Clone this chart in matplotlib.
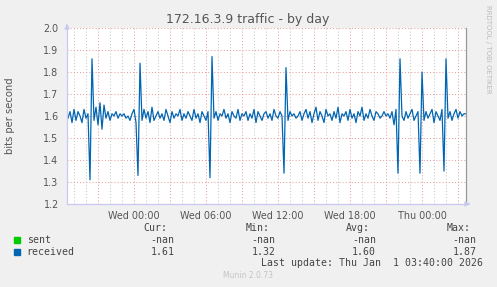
import matplotlib
matplotlib.use("Agg")
import matplotlib.pyplot as plt
import numpy as np

# data: 10 minute samples, hours relative to Wed 00:00
start_hour = -5.5
step_hours = 1 / 6
received = [
    1.59, 1.62, 1.57, 1.63, 1.58, 1.62, 1.60, 1.57, 1.63, 1.59, 1.61, 1.31, 1.86, 1.58, 1.64, 1.56, 1.66, 1.54, 1.65, 1.59,
    1.62, 1.58, 1.61, 1.60, 1.62, 1.59, 1.61, 1.60, 1.61, 1.59, 1.60, 1.58, 1.61, 1.63, 1.57, 1.33, 1.84, 1.58, 1.63, 1.59,
    1.62, 1.57, 1.64, 1.58, 1.60, 1.62, 1.59, 1.61, 1.58, 1.63, 1.60, 1.57, 1.62, 1.59, 1.61, 1.60, 1.63, 1.58, 1.61, 1.59,
    1.62, 1.60, 1.58, 1.63, 1.59, 1.61, 1.57, 1.62, 1.60, 1.58, 1.62, 1.32, 1.87, 1.59, 1.62, 1.58, 1.61, 1.60, 1.63, 1.59,
    1.61, 1.57, 1.62, 1.60, 1.59, 1.63, 1.58, 1.61, 1.60, 1.62, 1.58, 1.61, 1.59, 1.63, 1.57, 1.62, 1.60, 1.58, 1.61, 1.62,
    1.59, 1.61, 1.58, 1.63, 1.60, 1.59, 1.62, 1.60, 1.34, 1.82, 1.58, 1.62, 1.60, 1.61, 1.59, 1.60, 1.62, 1.58, 1.61, 1.63,
    1.59, 1.62, 1.57, 1.61, 1.64, 1.58, 1.62, 1.60, 1.57, 1.63, 1.60, 1.61, 1.58, 1.62, 1.59, 1.64, 1.57, 1.61, 1.60, 1.62,
    1.58, 1.63, 1.59, 1.61, 1.57, 1.62, 1.60, 1.64, 1.58, 1.61, 1.59, 1.63, 1.60, 1.58, 1.62, 1.61, 1.59, 1.60, 1.62, 1.60,
    1.61, 1.59, 1.62, 1.56, 1.63, 1.34, 1.86, 1.60, 1.58, 1.62, 1.59, 1.61, 1.63, 1.58, 1.60, 1.62, 1.34, 1.80, 1.58, 1.62,
    1.59, 1.61, 1.63, 1.57, 1.62, 1.60, 1.58, 1.63, 1.35, 1.86, 1.59, 1.62, 1.58, 1.61, 1.63, 1.59, 1.62, 1.60, 1.61, 1.61,
]
sent = [np.nan] * len(received)

series_names = ["sent", "received"]
series_colors = ["#00CC00", "#0066B3"]
stat_headers = ["Cur:", "Min:", "Avg:", "Max:"]
stats = [["-nan", "-nan", "-nan", "-nan"],
         ["1.61", "1.32", "1.60", "1.87"]]

label_hours = [0, 6, 12, 18, 24]
label_texts = ["Wed 00:00", "Wed 06:00", "Wed 12:00", "Wed 18:00", "Thu 00:00"]
y_ticks = [1.2, 1.3, 1.4, 1.5, 1.6, 1.7, 1.8, 1.9, 2.0]

W, H = 497, 287
fig = plt.figure(figsize=(W / 100, H / 100), dpi=100, facecolor="#F0F0F0")
ax = fig.add_axes([67 / W, (H - 204) / H, (466 - 67) / W, (204 - 28) / H])
ax.set_facecolor("white")

hours = start_hour + step_hours * np.arange(len(received))
ax.plot(hours, sent, color=series_colors[0], lw=0.9)
ax.plot(hours, received, color=series_colors[1], lw=0.9)

ax.set_xlim(-67 / 12, 332 / 12)
ax.set_ylim(1.2, 2.0)

major = np.arange(-3, 28, 3)
ax.set_xticks(major)
ax.set_xticklabels([label_texts[label_hours.index(h)] if h in label_hours else "" for h in major])
ax.set_xticks(np.arange(-5, 28, 1), minor=True)
ax.set_yticks(y_ticks)
ax.set_yticklabels(["%.1f" % v for v in y_ticks])

dots = (0, (1, 2))
ax.grid(which="minor", axis="x", color="#C8C8C8", ls=dots, lw=0.75)
ax.grid(which="major", axis="x", color="#E8A0A0", ls=dots, lw=0.75)
ax.grid(which="major", axis="y", color="#E8A0A0", ls=dots, lw=0.75)
ax.set_axisbelow(True)

ax.tick_params(which="both", length=0, labelsize=6.9, colors="#555555")
ax.tick_params(axis="x", pad=5)
ax.tick_params(axis="y", pad=6)

ax.spines["top"].set_visible(False)
ax.spines["right"].set_color("#999999")
ax.spines["left"].set_color("#C8C8F0")
ax.spines["bottom"].set_color("#C8C8F0")
for s in ax.spines.values():
    s.set_linewidth(0.9)

# axis arrows
ax.annotate("", xy=(473 / W, (H - 204) / H), xytext=(466 / W, (H - 204) / H),
            xycoords="figure fraction",
            arrowprops=dict(arrowstyle="-|>", color="#C8C8F0", lw=0.9, mutation_scale=7))
ax.annotate("", xy=(67 / W, (H - 21) / H), xytext=(67 / W, (H - 28) / H),
            xycoords="figure fraction",
            arrowprops=dict(arrowstyle="-|>", color="#C8C8F0", lw=0.9, mutation_scale=7))

ax.set_ylabel("bits per second", fontsize=7.2, color="#555555")
ax.yaxis.set_label_coords(-(67 - 15.5) / (466 - 67), 0.5)

fig.text(248 / W, 1 - 19.5 / H, "172.16.3.9 traffic - by day", ha="center", va="center",
         fontsize=9, color="#555555")
fig.text(488 / W, 1 - 5 / H, "RRDTOOL / TOBI OETIKER", rotation=270, ha="center", va="top",
         fontsize=5, color="#BBBBBB")

# legend block
mono = dict(family="DejaVu Sans Mono", fontsize=7.1, color="#444444", va="center")
col_right = [174.3, 275.7, 376, 476.7]
for j, hdr in enumerate(stat_headers):
    fig.text((col_right[j] - 6.5) / W, 1 - 227.7 / H, hdr, ha="right", **mono)
rows_y = [240, 251.7]
for i, name in enumerate(series_names):
    y = 1 - rows_y[i] / H
    fig.patches.append(plt.Rectangle((14 / W, y - 3 / H), 6 / W, 6 / H,
                                     transform=fig.transFigure, color=series_colors[i]))
    fig.text(26.7 / W, y, name, ha="left", **mono)
    for j, val in enumerate(stats[i]):
        fig.text(col_right[j] / W, y, val, ha="right", **mono)
fig.text(482.7 / W, 1 - 263.3 / H, "Last update: Thu Jan  1 03:40:00 2026", ha="right", **mono)
fig.text(248 / W, 1 - 276 / H, "Munin 2.0.73", ha="center", va="center", fontsize=5.5, color="#C4C4C4")

fig.savefig("out.png", dpi=100, facecolor=fig.get_facecolor())
